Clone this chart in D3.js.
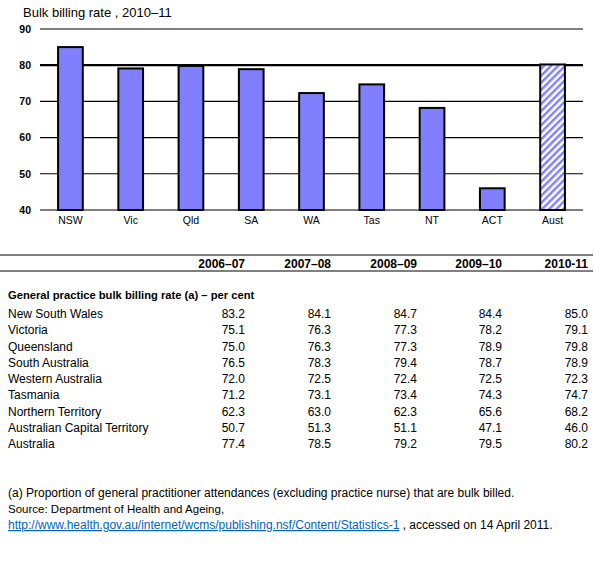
<!DOCTYPE html>
<html>
<head>
<meta charset="utf-8">
<script src="https://cdn.jsdelivr.net/npm/d3@7"></script>
<style>
  body { margin: 0; background: #fff; }
  svg { font-family: "Liberation Sans", Arial, sans-serif; }
</style>
</head>
<body>
<script>
// chart data
const states = ['NSW', 'Vic', 'Qld', 'SA', 'WA', 'Tas', 'NT', 'ACT', 'Aust'];
const rate2010 = [85.0, 79.1, 79.8, 78.9, 72.3, 74.7, 68.2, 46.0, 80.2];
const yTicks = [40, 50, 60, 70, 80, 90];

// table data
const years = ['2006–07', '2007–08', '2008–09', '2009–10', '2010-11'];
const rowNames = ['New South Wales', 'Victoria', 'Queensland', 'South Australia', 'Western Australia',
  'Tasmania', 'Northern Territory', 'Australian Capital Territory', 'Australia'];
const v0607 = ['83.2', '75.1', '75.0', '76.5', '72.0', '71.2', '62.3', '50.7', '77.4'];
const v0708 = ['84.1', '76.3', '76.3', '78.3', '72.5', '73.1', '63.0', '51.3', '78.5'];
const v0809 = ['84.7', '77.3', '77.3', '79.4', '72.4', '73.4', '62.3', '51.1', '79.2'];
const v0910 = ['84.4', '78.2', '78.9', '78.7', '72.5', '74.3', '65.6', '47.1', '79.5'];
const v1011 = ['85.0', '79.1', '79.8', '78.9', '72.3', '74.7', '68.2', '46.0', '80.2'];

const width = 595, height = 568;
const svg = d3.select('body').append('svg')
  .attr('width', width)
  .attr('height', height);

// hatch for the Australia bar
const defs = svg.append('defs');
const pat = defs.append('pattern')
  .attr('id', 'hatch')
  .attr('patternUnits', 'userSpaceOnUse')
  .attr('width', 5).attr('height', 5)
  .attr('patternTransform', 'rotate(45)');
pat.append('rect').attr('width', 5).attr('height', 5).attr('fill', '#fff');
pat.append('rect').attr('width', 2.4).attr('height', 5).attr('fill', '#8080ff');

svg.append('text')
  .attr('x', 23).attr('y', 17)
  .attr('font-size', 13)
  .text('Bulk billing rate , 2010–11');

const x = d3.scaleBand()
  .domain(states)
  .range([40, 583])
  .paddingInner(0.59)
  .paddingOuter(0.3);

const y = d3.scaleLinear()
  .domain([40, 90])
  .range([210, 29]);

// gridlines
svg.append('g')
  .selectAll('line')
  .data(yTicks)
  .enter()
  .append('line')
  .attr('x1', 40).attr('x2', 583)
  .attr('y1', d => y(d)).attr('y2', d => y(d))
  .attr('stroke', '#000')
  .attr('stroke-width', d => d === 80 ? 2.2 : 1.1);

// y axis labels
const yAxis = svg.append('g')
  .attr('transform', 'translate(33,0)')
  .call(d3.axisLeft(y).tickValues(yTicks).tickSize(0).tickPadding(2));
yAxis.select('.domain').remove();
yAxis.selectAll('text')
  .attr('font-family', '"Liberation Sans", Arial, sans-serif')
  .attr('font-size', 10.5)
  .attr('font-weight', 'bold')
  .attr('fill', '#000');

// bars
svg.append('g')
  .selectAll('rect')
  .data(states)
  .enter()
  .append('rect')
  .attr('x', d => x(d))
  .attr('y', (d, i) => y(rate2010[i]))
  .attr('width', x.bandwidth())
  .attr('height', (d, i) => y(40) - y(rate2010[i]))
  .attr('fill', d => d === 'Aust' ? 'url(#hatch)' : '#8080ff')
  .attr('stroke', '#000')
  .attr('stroke-width', 2);

// x axis labels
const xAxis = svg.append('g')
  .attr('transform', 'translate(0,212)')
  .call(d3.axisBottom(x).tickSize(0).tickPadding(5));
xAxis.select('.domain').remove();
xAxis.selectAll('text')
  .attr('font-family', '"Liberation Sans", Arial, sans-serif')
  .attr('font-size', 10.5)
  .attr('fill', '#000');

// table
const table = svg.append('g').attr('font-size', 12);
table.append('line').attr('x1', 0).attr('x2', 593).attr('y1', 255).attr('y2', 255)
  .attr('stroke', '#000').attr('stroke-width', 1);
table.append('line').attr('x1', 0).attr('x2', 593).attr('y1', 271).attr('y2', 271)
  .attr('stroke', '#000').attr('stroke-width', 1);

const colRight = [245, 331, 417, 502, 588];
table.selectAll('.yr')
  .data(years)
  .enter()
  .append('text')
  .attr('class', 'yr')
  .attr('x', (d, i) => colRight[i])
  .attr('y', 268)
  .attr('text-anchor', 'end')
  .attr('font-weight', 'bold')
  .text(d => d);

table.append('text')
  .attr('x', 8).attr('y', 299)
  .attr('font-size', 11.2)
  .attr('font-weight', 'bold')
  .text('General practice bulk billing rate (a) – per cent');

const rowY = d3.scalePoint().domain(rowNames).range([318, 448]);
table.selectAll('.rn')
  .data(rowNames)
  .enter()
  .append('text')
  .attr('class', 'rn')
  .attr('x', 8)
  .attr('y', d => rowY(d))
  .text(d => d);

[v0607, v0708, v0809, v0910, v1011].forEach((col, j) => {
  table.selectAll('.c' + j)
    .data(col)
    .enter()
    .append('text')
    .attr('class', 'c' + j)
    .attr('x', colRight[j])
    .attr('y', (d, i) => rowY(rowNames[i]))
    .attr('text-anchor', 'end')
    .text(d => d);
});

// footnotes
const notes = svg.append('g').attr('font-size', 12);
notes.append('text').attr('x', 8).attr('y', 497)
  .text('(a) Proportion of general practitioner attendances (excluding practice nurse) that are bulk billed.');
notes.append('text').attr('x', 8).attr('y', 513)
  .attr('font-size', 11.5)
  .text('Source: Department of Health and Ageing,');
const src = notes.append('text').attr('x', 8).attr('y', 529);
src.append('tspan')
  .attr('fill', '#0563c1')
  .attr('text-decoration', 'underline')
  .text('http://www.health.gov.au/internet/wcms/publishing.nsf/Content/Statistics-1');
src.append('tspan').text(' , accessed on 14 April 2011.');
</script>
</body>
</html>
